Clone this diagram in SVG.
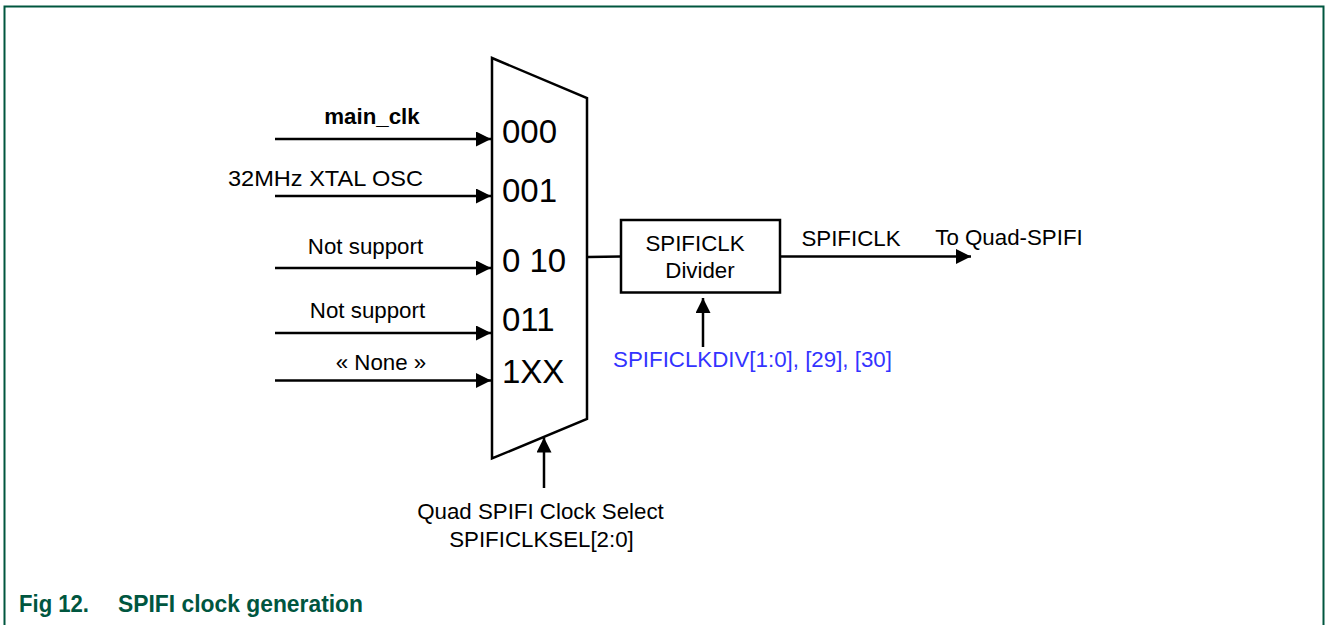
<svg xmlns="http://www.w3.org/2000/svg" width="1326" height="625" viewBox="0 0 1326 625">
<defs>
<marker id="ah" viewBox="0 0 10 10" refX="10" refY="5" markerWidth="15" markerHeight="15" markerUnits="userSpaceOnUse" orient="auto">
<path d="M0,0 L10,5 L0,10 z" fill="#000"/>
</marker>
</defs>
<style>
.t{font-family:"Liberation Sans",Arial,sans-serif;font-size:22.3px;fill:#000}
.b{font-weight:bold}
.m{font-family:"Liberation Sans",Arial,sans-serif;font-size:33px;fill:#000}
.blue{fill:#3333ff}
.ln{stroke:#000;stroke-width:2.5;fill:none}
.cap{font-family:"Liberation Sans",Arial,sans-serif;font-size:23px;font-weight:bold;fill:#00563f}
</style>
<rect x="4.5" y="6.5" width="1319" height="640" fill="#fff" stroke="#00563f" stroke-width="2"/>
<g id="connectors">
<line class="ln" x1="275" y1="139" x2="491" y2="139" marker-end="url(#ah)"/>
<line class="ln" x1="275" y1="196" x2="491" y2="196" marker-end="url(#ah)"/>
<line class="ln" x1="275" y1="268" x2="491" y2="268" marker-end="url(#ah)"/>
<line class="ln" x1="275" y1="333" x2="491" y2="333" marker-end="url(#ah)"/>
<line class="ln" x1="275" y1="380.5" x2="491" y2="380.5" marker-end="url(#ah)"/>
<line class="ln" x1="588" y1="257" x2="621" y2="256.5"/>
<line class="ln" x1="780" y1="256.5" x2="971" y2="256.5" marker-end="url(#ah)"/>
<line class="ln" x1="703" y1="347" x2="703" y2="298" marker-end="url(#ah)"/>
<line class="ln" x1="544" y1="488" x2="544" y2="437.5" marker-end="url(#ah)"/>
</g>
<g id="labels">
<text class="t b" x="372" y="124" text-anchor="middle">main_clk</text>
<text class="t" x="325.5" y="186" text-anchor="middle" textLength="195" lengthAdjust="spacingAndGlyphs">32MHz XTAL OSC</text>
<text class="t" x="365.5" y="254" text-anchor="middle">Not support</text>
<text class="t" x="367.5" y="318" text-anchor="middle">Not support</text>
<text class="t" x="381" y="370" text-anchor="middle">« None »</text>
<text class="t" x="851" y="246" text-anchor="middle">SPIFICLK</text>
<text class="t" x="1009" y="245" text-anchor="middle">To Quad-SPIFI</text>
<text class="t blue" x="752.5" y="367" text-anchor="middle">SPIFICLKDIV[1:0], [29], [30]</text>
<text class="t" x="540.5" y="519" text-anchor="middle">Quad SPIFI Clock Select</text>
<text class="t" x="541.5" y="547" text-anchor="middle">SPIFICLKSEL[2:0]</text>
</g>
<g id="mux">
<path class="ln" d="M492,58 L587,98 L587,419 L492,458.5 Z" fill="#fff"/>
<text class="m" x="502" y="143">000</text>
<text class="m" x="502" y="202">001</text>
<text class="m" x="502" y="272">0 10</text>
<text class="m" x="502" y="331">011</text>
<text class="m" x="502" y="383">1XX</text>
</g>
<g id="divider">
<rect class="ln" x="621" y="220" width="159" height="72.5" fill="#fff"/>
<text class="t" x="695" y="251" text-anchor="middle">SPIFICLK</text>
<text class="t" x="700" y="278" text-anchor="middle">Divider</text>
</g>
<g id="caption">
<text class="cap" x="19" y="612" textLength="70" lengthAdjust="spacingAndGlyphs">Fig 12.</text>
<text class="cap" x="118" y="612" textLength="245" lengthAdjust="spacingAndGlyphs">SPIFI clock generation</text>
</g>
</svg>
